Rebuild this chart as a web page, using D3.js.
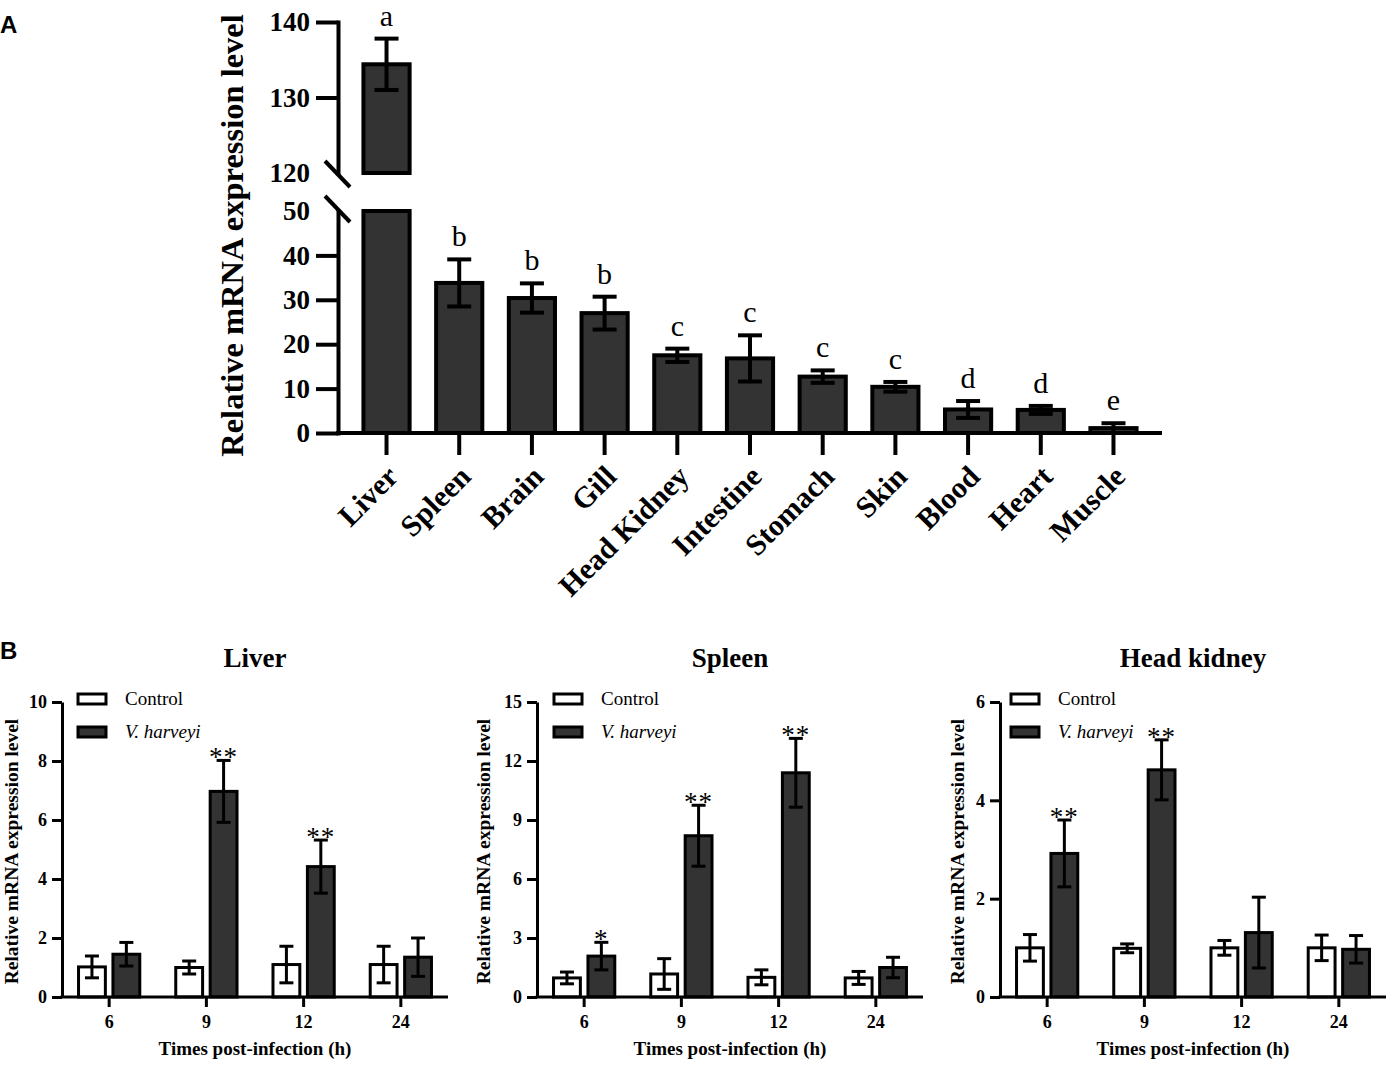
<!DOCTYPE html>
<html>
<head>
<meta charset="utf-8">
<script src="https://cdn.jsdelivr.net/npm/d3@7"></script>
<style>
  body { margin: 0; background: #fff; }
  text { font-family: "Liberation Serif", "Times New Roman", serif; fill: #000; }
</style>
</head>
<body>
<div id="chart"></div>
<script>
// ---- panel A data ----
const tissues = ["Liver", "Spleen", "Brain", "Gill", "Head Kidney", "Intestine", "Stomach", "Skin", "Blood", "Heart", "Muscle"];
const tissueMean = [134.4, 33.8, 30.4, 27.0, 17.5, 16.8, 12.7, 10.4, 5.3, 5.2, 1.1];
const tissueErr = [3.4, 5.3, 3.3, 3.7, 1.5, 5.2, 1.4, 1.1, 1.9, 0.9, 1.1];
const tissueLetters = ["a", "b", "b", "b", "c", "c", "c", "c", "d", "d", "e"];
const lowTicks = [0, 10, 20, 30, 40, 50];
const highTicks = [120, 130, 140];

// ---- panel B data ----
const timePoints = ["6", "9", "12", "24"];
const seriesNames = ["Control", "V. harveyi"];

const liverControl = [1.02, 1.0, 1.1, 1.1];
const liverControlErr = [0.37, 0.22, 0.62, 0.62];
const liverVh = [1.45, 6.97, 4.42, 1.35];
const liverVhErr = [0.4, 1.05, 0.9, 0.65];
const liverStars = ["", "**", "**", ""];
const liverTicks = [0, 2, 4, 6, 8, 10];

const spleenControl = [0.97, 1.17, 1.0, 0.97];
const spleenControlErr = [0.3, 0.78, 0.38, 0.33];
const spleenVh = [2.08, 8.2, 11.4, 1.5];
const spleenVhErr = [0.7, 1.55, 1.75, 0.52];
const spleenStars = ["*", "**", "**", ""];
const spleenTicks = [0, 3, 6, 9, 12, 15];

const hkControl = [1.0, 0.99, 1.0, 1.0];
const hkControlErr = [0.27, 0.09, 0.15, 0.26];
const hkVh = [2.92, 4.62, 1.31, 0.97];
const hkVhErr = [0.68, 0.61, 0.72, 0.28];
const hkStars = ["**", "**", "", ""];
const hkTicks = [0, 2, 4, 6];

const W = 1392, H = 1067;
const barFill = "#333333";
const serif = "'Liberation Serif', 'Times New Roman', serif";

const svg = d3.select("#chart").append("svg")
    .attr("width", W)
    .attr("height", H);
svg.append("rect").attr("width", W).attr("height", H).attr("fill", "#fff");

// panel letters
svg.append("text").attr("x", 0).attr("y", 33).text("A")
    .style("font-family", "'Liberation Sans', Arial, sans-serif")
    .style("font-weight", "bold").style("font-size", "24px");
svg.append("text").attr("x", 0).attr("y", 659).text("B")
    .style("font-family", "'Liberation Sans', Arial, sans-serif")
    .style("font-weight", "bold").style("font-size", "24px");

// =================== Panel A ===================
function drawPanelA() {
    const axX = 338, axEnd = 1162;
    const lw = 4;
    const x = d3.scaleBand().domain(tissues).range([axX, axEnd])
        .paddingInner(0.365).paddingOuter(0.35);
    const yLow = d3.scaleLinear().domain([0, 50]).range([433, 211]);
    const yHigh = d3.scaleLinear().domain([120, 140]).range([173, 22]);

    const g = svg.append("g");

    // bars
    tissues.forEach((t, i) => {
        const v = tissueMean[i];
        const x0 = x(t), bw = x.bandwidth();
        if (v > 50) {
            g.append("rect").attr("x", x0).attr("y", yHigh(v))
                .attr("width", bw).attr("height", yHigh(120) - yHigh(v))
                .attr("fill", barFill).attr("stroke", "#000").attr("stroke-width", lw);
            g.append("rect").attr("x", x0).attr("y", yLow(50))
                .attr("width", bw).attr("height", yLow(0) - yLow(50))
                .attr("fill", barFill).attr("stroke", "#000").attr("stroke-width", lw);
        } else {
            g.append("rect").attr("x", x0).attr("y", yLow(v))
                .attr("width", bw).attr("height", yLow(0) - yLow(v))
                .attr("fill", barFill).attr("stroke", "#000").attr("stroke-width", lw);
        }
    });

    // error bars + letters
    tissues.forEach((t, i) => {
        const v = tissueMean[i], e = tissueErr[i];
        const ys = v > 50 ? yHigh : yLow;
        const cx = x(t) + x.bandwidth() / 2;
        const top = ys(v + e), bot = ys(Math.max(0, v - e));
        g.append("line").attr("x1", cx).attr("x2", cx).attr("y1", top).attr("y2", bot)
            .attr("stroke", "#000").attr("stroke-width", lw);
        [top, bot].forEach(yy => {
            g.append("line").attr("x1", cx - 12).attr("x2", cx + 12).attr("y1", yy).attr("y2", yy)
                .attr("stroke", "#000").attr("stroke-width", lw);
        });
        g.append("text").attr("x", cx).attr("y", top - 13)
            .attr("text-anchor", "middle").style("font-size", "30px")
            .text(tissueLetters[i]);
    });

    // y axes (split)
    const axLow = g.append("g").attr("transform", `translate(${axX},0)`)
        .call(d3.axisLeft(yLow).tickValues(lowTicks).tickSize(22).tickSizeOuter(0).tickPadding(6));
    const axHigh = g.append("g").attr("transform", `translate(${axX},0)`)
        .call(d3.axisLeft(yHigh).tickValues(highTicks).tickSize(22).tickSizeOuter(0).tickPadding(6));
    [axLow, axHigh].forEach(a => {
        a.select(".domain").attr("stroke-width", lw).attr("stroke-linecap", "square");
        a.selectAll(".tick line").attr("stroke-width", lw);
        a.selectAll(".tick text").style("font-size", "27px").style("font-weight", "bold")
            .style("font-family", serif);
    });
    // hide ticks under the break marks
    axLow.selectAll(".tick").filter(d => d === 50).select("line").remove();
    axHigh.selectAll(".tick").filter(d => d === 120).select("line").remove();

    // break marks
    [yHigh(120) + 1, yLow(50) - 2].forEach(yy => {
        g.append("line").attr("x1", axX - 13).attr("x2", axX + 12)
            .attr("y1", yy - 13).attr("y2", yy + 13)
            .attr("stroke", "#000").attr("stroke-width", lw);
    });

    // x axis
    const axB = g.append("g").attr("transform", `translate(0,${yLow(0)})`)
        .call(d3.axisBottom(x).tickSize(22).tickSizeOuter(0).tickPadding(8));
    axB.select(".domain").attr("stroke-width", lw).attr("d", `M${axX - 2},0H${axEnd}`);
    axB.selectAll(".tick line").attr("stroke-width", lw);
    axB.selectAll(".tick text")
        .style("font-size", "30px").style("font-weight", "bold")
        .style("font-family", serif)
        .attr("text-anchor", "end")
        .attr("transform", "translate(6,38) rotate(-45)")
        .attr("x", 0).attr("y", 0).attr("dy", "0.35em");

    // y label
    g.append("text")
        .attr("transform", `translate(243,${(22 + 433) / 2 + 8}) rotate(-90)`)
        .attr("text-anchor", "middle")
        .style("font-size", "32.5px").style("font-weight", "bold")
        .text("Relative mRNA expression level");
}

// =================== Panel B ===================
function drawPanelB(cfg) {
    const lw = 3;
    const top = 702, bottom = 997;
    const x = d3.scaleBand().domain(timePoints).range([cfg.x0, cfg.x0 + 386])
        .paddingInner(0.37).paddingOuter(0.17);
    const sub = d3.scaleBand().domain(seriesNames).range([0, x.bandwidth()]).paddingInner(0.22);
    const y = d3.scaleLinear().domain([0, cfg.ticks[cfg.ticks.length - 1]]).range([bottom, top]);

    const g = svg.append("g");
    const series = [
        { name: seriesNames[0], vals: cfg.control, errs: cfg.controlErr, fill: "#fff" },
        { name: seriesNames[1], vals: cfg.vh, errs: cfg.vhErr, fill: barFill }
    ];

    series.forEach(s => {
        timePoints.forEach((tp, i) => {
            const bx = x(tp) + sub(s.name);
            const bw = sub.bandwidth();
            const v = s.vals[i], e = s.errs[i];
            g.append("rect").attr("x", bx).attr("y", y(v))
                .attr("width", bw).attr("height", y(0) - y(v))
                .attr("fill", s.fill).attr("stroke", "#000").attr("stroke-width", lw);
            const cx = bx + bw / 2;
            const yt = y(v + e), yb = y(Math.max(0, v - e));
            g.append("line").attr("x1", cx).attr("x2", cx).attr("y1", yt).attr("y2", yb)
                .attr("stroke", "#000").attr("stroke-width", lw);
            [yt, yb].forEach(yy => {
                g.append("line").attr("x1", cx - 7).attr("x2", cx + 7).attr("y1", yy).attr("y2", yy)
                    .attr("stroke", "#000").attr("stroke-width", lw);
            });
            if (s.name === seriesNames[1] && cfg.stars[i]) {
                g.append("text").attr("x", cx).attr("y", yt + 6)
                    .attr("text-anchor", "middle").style("font-size", "27px")
                    .style("letter-spacing", "1px")
                    .text(cfg.stars[i]);
            }
        });
    });

    // axes
    const ay = g.append("g").attr("transform", `translate(${cfg.x0},0)`)
        .call(d3.axisLeft(y).tickValues(cfg.ticks).tickFormat(d3.format("d"))
            .tickSize(10).tickSizeOuter(0).tickPadding(5));
    const ax = g.append("g").attr("transform", `translate(0,${bottom})`)
        .call(d3.axisBottom(x).tickSize(10).tickSizeOuter(0).tickPadding(8));
    ax.select(".domain").attr("d", `M${cfg.x0 - 1.5},0H${cfg.x0 + 386}`);
    [ay, ax].forEach(a => {
        a.select(".domain").attr("stroke-width", lw);
        a.selectAll(".tick line").attr("stroke-width", lw);
        a.selectAll(".tick text").style("font-size", "18px").style("font-weight", "bold")
            .style("font-family", serif);
    });

    // title
    g.append("text").attr("x", cfg.x0 + 193).attr("y", 667)
        .attr("text-anchor", "middle")
        .style("font-size", "27px").style("font-weight", "bold")
        .text(cfg.title);

    // axis labels
    g.append("text").attr("x", cfg.x0 + 193).attr("y", 1055)
        .attr("text-anchor", "middle")
        .style("font-size", "19px").style("font-weight", "bold")
        .text("Times post-infection (h)");
    g.append("text")
        .attr("transform", `translate(${cfg.x0 - cfg.ylabOff},${(top + bottom) / 2 + 2}) rotate(-90)`)
        .attr("text-anchor", "middle")
        .attr("dy", "0.32em")
        .style("font-size", "19.5px").style("font-weight", "bold")
        .text("Relative mRNA expression level");

    // legend
    series.forEach((s, i) => {
        const ly = 699 + i * 33;
        g.append("rect").attr("x", cfg.x0 + cfg.legX).attr("y", ly - 5)
            .attr("width", 28).attr("height", 10)
            .attr("fill", s.fill).attr("stroke", "#000").attr("stroke-width", lw);
        g.append("text").attr("x", cfg.x0 + cfg.legX + 47).attr("y", ly + 6)
            .style("font-size", "19px")
            .style("font-style", i === 1 ? "italic" : "normal")
            .text(s.name);
    });
}

drawPanelA();
drawPanelB({ title: "Liver", x0: 62, ticks: liverTicks, control: liverControl, controlErr: liverControlErr,
    vh: liverVh, vhErr: liverVhErr, stars: liverStars, ylabOff: 50, legX: 16 });
drawPanelB({ title: "Spleen", x0: 537, ticks: spleenTicks, control: spleenControl, controlErr: spleenControlErr,
    vh: spleenVh, vhErr: spleenVhErr, stars: spleenStars, ylabOff: 53, legX: 17 });
drawPanelB({ title: "Head kidney", x0: 1000, ticks: hkTicks, control: hkControl, controlErr: hkControlErr,
    vh: hkVh, vhErr: hkVhErr, stars: hkStars, ylabOff: 42, legX: 11 });
</script>
</body>
</html>
